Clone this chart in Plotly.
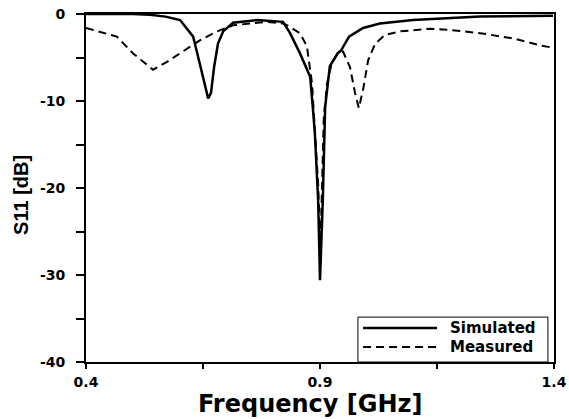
import plotly.graph_objects as go

sim_freq = [0.400, 0.500, 0.537, 0.570, 0.601, 0.629, 0.639, 0.650, 0.661, 0.667, 0.674, 0.682,
            0.693, 0.714, 0.765, 0.821, 0.836, 0.857, 0.879, 0.885, 0.889, 0.896, 0.900,
            0.906, 0.911, 0.921, 0.938, 0.945, 0.962, 0.992, 1.028, 1.099, 1.171, 1.242, 1.398]
sim_db = [0.0, 0.0, -0.1, -0.3, -0.7, -2.6, -4.8, -7.2, -9.7, -9.1, -6.0, -3.4,
          -2.0, -1.0, -0.7, -0.9, -2.2, -4.5, -7.2, -11.0, -13.7, -21.4, -30.6,
          -21.4, -10.7, -6.0, -4.5, -4.2, -2.6, -1.6, -1.1, -0.7, -0.5, -0.3, -0.2]

meas_freq = [0.400, 0.466, 0.500, 0.530, 0.543, 0.573, 0.607, 0.644, 0.680, 0.714, 0.750,
             0.787, 0.821, 0.830, 0.857, 0.872, 0.883, 0.889, 0.896, 0.901, 0.905, 0.908,
             0.915, 0.925, 0.938, 0.949, 0.964, 0.975, 0.983, 0.992, 1.003, 1.018, 1.039,
             1.071, 1.135, 1.171, 1.242, 1.312, 1.370, 1.400]
meas_db = [-1.6, -2.6, -4.5, -5.9, -6.4, -5.5, -4.3, -3.0, -2.0, -1.3, -1.1,
           -0.9, -1.1, -1.3, -2.2, -3.7, -8.0, -13.7, -19.5, -27.0, -18.0, -12.0,
           -8.0, -5.7, -4.5, -4.3, -6.1, -9.1, -10.8, -8.7, -5.3, -3.4, -2.4,
           -2.0, -1.7, -1.8, -2.2, -2.8, -3.6, -3.9]

series_names = ["Simulated", "Measured"]
x_title = "Frequency [GHz]"
y_title = "S11 [dB]"

x_ticks = [0.4, 0.65, 0.9, 1.15, 1.4]
x_labels = ["0.4", "", "0.9", "", "1.4"]
y_ticks = [0, -5, -10, -15, -20, -25, -30, -35, -40]
y_labels = ["0", "", "-10", "", "-20", "", "-30", "", "-40"]

font = "DejaVu Sans, sans-serif"
font_narrow = "Liberation Sans, Arial, sans-serif"
DASH = "8px,5px"

fig = go.Figure()
fig.add_trace(go.Scatter(x=sim_freq, y=sim_db, mode="lines", name=series_names[0],
                         line=dict(color="black", width=2.5)))
fig.add_trace(go.Scatter(x=meas_freq, y=meas_db, mode="lines", name=series_names[1],
                         line=dict(color="black", width=2, dash=DASH)))

# legend box drawn manually (long line samples as in the original)
shapes = [
    dict(type="rect", xref="paper", yref="paper", x0=0.581, x1=0.987, y0=0.0, y1=0.129,
         line=dict(color="black", width=1), fillcolor="white", layer="above"),
    dict(type="line", xref="paper", yref="paper", x0=0.592, x1=0.75, y0=0.098, y1=0.098,
         line=dict(color="black", width=2.5), layer="above"),
    dict(type="line", xref="paper", yref="paper", x0=0.592, x1=0.75, y0=0.043, y1=0.043,
         line=dict(color="black", width=2, dash=DASH), layer="above"),
]
annotations = [
    dict(xref="paper", yref="paper", x=0.774, y=yy, text=name, showarrow=False,
         xanchor="left", yanchor="middle",
         font=dict(family=font, size=15, color="black", weight="bold"))
    for name, yy in zip(series_names, [0.098, 0.043])
]
annotations.append(dict(xref="paper", yref="paper", x=0.479, y=-0.12, text=x_title,
                        showarrow=False, xanchor="center", yanchor="middle",
                        font=dict(family=font, size=24, color="black", weight="bold")))
annotations.append(dict(xref="paper", yref="paper", x=-0.139, y=0.48, text=y_title,
                        showarrow=False, xanchor="center", yanchor="middle", textangle=-90,
                        font=dict(family=font_narrow, size=20, color="black", weight="bold")))

fig.update_layout(
    width=569, height=419,
    margin=dict(l=86, r=15, t=14, b=57),
    paper_bgcolor="white", plot_bgcolor="white",
    showlegend=False,
    shapes=shapes, annotations=annotations,
    font=dict(family=font, color="black"),
)
fig.update_xaxes(range=[0.4, 1.4], tickvals=x_ticks, ticktext=x_labels, automargin=False,
                 ticks="outside", ticklen=5, tickwidth=2, tickcolor="black",
                 ticklabelstandoff=1, ticklabeloverflow="allow",
                 showline=True, linecolor="black", linewidth=2, mirror=True,
                 showgrid=False, zeroline=False,
                 tickfont=dict(family=font, size=14, color="black", weight="bold"))
fig.update_yaxes(range=[-40, 0], tickvals=y_ticks, ticktext=y_labels, automargin=False,
                 ticks="outside", ticklen=8, tickwidth=2, tickcolor="black",
                 ticklabelstandoff=8, ticklabeloverflow="allow",
                 showline=True, linecolor="black", linewidth=2, mirror=True,
                 showgrid=False, zeroline=False,
                 tickfont=dict(family=font, size=14, color="black", weight="bold"))

fig.write_html("out.html", config={"displayModeBar": False},
               post_script="document.body.style.margin='0';")
